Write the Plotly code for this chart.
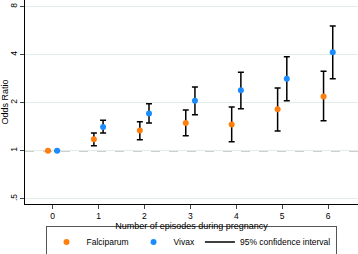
import plotly.graph_objects as go

episodes = [0, 1, 2, 3, 4, 5, 6]
falc_or = [1.0, 1.18, 1.34, 1.49, 1.46, 1.82, 2.19]
falc_hi = [1.0, 1.29, 1.52, 1.80, 1.88, 2.47, 3.15]
falc_lo = [1.0, 1.075, 1.17, 1.24, 1.14, 1.33, 1.54]
viv_or = [1.0, 1.41, 1.71, 2.06, 2.39, 2.83, 4.14]
viv_hi = [1.0, 1.55, 1.97, 2.51, 3.10, 3.89, 6.05]
viv_lo = [1.0, 1.29, 1.49, 1.68, 1.83, 2.06, 2.83]
y_ticks = [0.5, 1, 2, 4, 8]
y_labels = [".5", "1", "2", "4", "8"]

offset = 0.1
fx = [e - offset for e in episodes]
vx = [e + offset for e in episodes]

def has_ci(lo, hi):
    return [h - 1e-9 > l for l, h in zip(lo, hi)]

fig = go.Figure()
fig.add_hline(y=1, line=dict(color="#a0a0a0", width=1.3, dash="dash"), layer="below")

for name, xs, ors, lo, hi, col in [
    ("Falciparum", fx, falc_or, falc_lo, falc_hi, "#ff7f0e"),
    ("Vivax", vx, viv_or, viv_lo, viv_hi, "#1a8cff"),
]:
    ci = has_ci(lo, hi)
    fig.add_trace(go.Scatter(
        x=xs, y=ors, mode="markers", name=name,
        marker=dict(color=col, size=6),
        error_y=dict(type="data", symmetric=False,
                     array=[h - o if c else 0 for h, o, c in zip(hi, ors, ci)],
                     arrayminus=[o - l if c else 0 for l, o, c in zip(lo, ors, ci)],
                     color="black", thickness=1.5, width=3, visible=True),
    ))

fig.add_trace(go.Scatter(x=[None], y=[None], mode="lines", name="95% confidence interval",
                         line=dict(color="black", width=1.5)))

font = "Liberation Sans"
fig.update_layout(
    width=358, height=254,
    margin=dict(l=25, r=0, t=0, b=50, autoexpand=False),
    paper_bgcolor="white", plot_bgcolor="white",
    font=dict(family=font, size=8.5, color="black"),
    showlegend=True,
    legend=dict(orientation="h", x=0.4985, xanchor="center", y=-0.11, yanchor="top",
                bordercolor="#555555", borderwidth=1, font=dict(size=8.5),
                itemwidth=30, tracegroupgap=0),
    xaxis=dict(range=[-0.6, 6.65], tickvals=episodes, ticks="outside", ticklen=4,
               showline=True, linecolor="black", linewidth=1, showgrid=False, zeroline=False,
               automargin=False,
               title=dict(text="Number of episodes during pregnancy", standoff=1, font=dict(size=9)),
               tickfont=dict(size=8.5)),
    yaxis=dict(type="log", range=[-0.334, 0.945], tickvals=y_ticks, ticktext=y_labels,
               tickangle=-90, ticks="outside", ticklen=4, automargin=False,
               showline=True, linecolor="black", linewidth=1,
               showgrid=True, gridcolor="#e2ece8", gridwidth=1.3, zeroline=False,
               title=dict(text="Odds Ratio", standoff=2, font=dict(size=9)),
               tickfont=dict(size=8.5)),
)

fig.write_html("out.html", config={"displayModeBar": False},
               post_script="document.body.style.margin='0';document.body.style.overflow='hidden';")
